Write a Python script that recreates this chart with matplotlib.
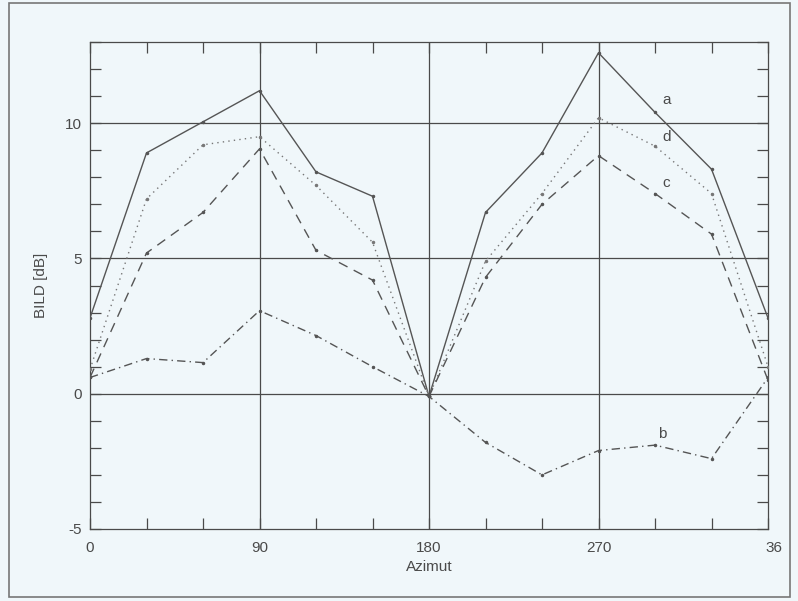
import matplotlib
matplotlib.use("Agg")
import matplotlib.pyplot as plt
import matplotlib.transforms as mtransforms
from matplotlib.patches import Rectangle
from matplotlib.ticker import MultipleLocator, FuncFormatter

# Azimuth in degrees, BILD in dB
azimut = [0, 30, 60, 90, 120, 150, 180, 210, 240, 270, 300, 330, 360]
bild_a = [2.8, 8.9, 10.05, 11.2, 8.2, 7.3, -0.1, 6.7, 8.9, 12.6, 10.4, 8.3, 2.8]
bild_d = [0.9, 7.2, 9.2, 9.5, 7.7, 5.6, -0.1, 4.9, 7.4, 10.2, 9.15, 7.4, 1.0]
bild_c = [0.6, 5.2, 6.7, 9.05, 5.3, 4.2, -0.1, 4.3, 7.0, 8.8, 7.4, 5.9, 0.5]
bild_b = [0.6, 1.3, 1.15, 3.07, 2.15, 1.0, -0.1, -1.8, -3.0, -2.1, -1.9, -2.4, 0.6]

curve_labels = ["a", "d", "c", "b"]
label_x = [303.7, 303.7, 303.7, 301.6]
label_y = [10.85, 9.5, 7.8, -1.48]

BG = "#f0f7fa"
INK = "#4a4a4a"

plt.rcParams["font.family"] = ["Liberation Sans", "DejaVu Sans"]

fig = plt.figure(figsize=(7.98, 6.01), dpi=100, facecolor=BG)
ax = fig.add_axes([90 / 798, 72 / 601, 678 / 798, 487 / 601])
ax.set_facecolor(BG)

# outer frame around the whole figure
fig.patches.append(Rectangle((9 / 798, 4 / 601), 781 / 798, 594 / 601,
                             transform=fig.transFigure, fill=False,
                             edgecolor="#777777", linewidth=1.2))

# grid lines only at the labelled values
for gx in [90, 180, 270]:
    ax.axvline(gx, color=INK, linewidth=0.9, zorder=1)
for gy in [0, 5, 10]:
    ax.axhline(gy, color=INK, linewidth=0.9, zorder=1)

kw = dict(linewidth=1.0, marker=".", markersize=3, zorder=3)
ax.plot(azimut, bild_a, linestyle="-", color="#555555", **kw)
ax.plot(azimut, bild_d, linestyle=(0, (1, 3)), color="#777777", **kw)
ax.plot(azimut, bild_c, linestyle=(0, (7, 5)), color="#555555", **kw)
ax.plot(azimut, bild_b, linestyle=(0, (6, 3, 1, 3)), color="#555555", **kw)

for t, x, y in zip(curve_labels, label_x, label_y):
    ax.text(x, y, t, fontsize=11, color=INK, ha="left", va="center")

ax.set_xlim(0, 360)
ax.set_ylim(-5, 13)

ax.xaxis.set_major_locator(MultipleLocator(30))
ax.yaxis.set_major_locator(MultipleLocator(1))
ax.xaxis.set_major_formatter(FuncFormatter(
    lambda v, p: ("36" if round(v) == 360 else f"{int(round(v))}") if round(v) % 90 == 0 else ""))
ax.yaxis.set_major_formatter(FuncFormatter(
    lambda v, p: f"{int(round(v))}" if round(v) % 5 == 0 else ""))

ax.tick_params(direction="in", length=8, width=0.9, color=INK,
               labelcolor=INK, labelsize=11, top=True, right=True)
ax.tick_params(axis="x", pad=9)
ax.tick_params(axis="y", pad=6)

# the "360" label is cut off in the reference, shift it to the right a bit
for lab in ax.get_xticklabels():
    if lab.get_text() == "36":
        lab.set_transform(lab.get_transform() +
                          mtransforms.ScaledTranslation(6 / 100, 0, fig.dpi_scale_trans))

for sp in ax.spines.values():
    sp.set_color(INK)
    sp.set_linewidth(0.9)

ax.set_xlabel("Azimut", fontsize=11, color=INK, labelpad=3)
ax.set_ylabel("BILD [dB]", fontsize=11, color=INK, labelpad=12)

fig.savefig("out.png", dpi=100, facecolor=BG)
